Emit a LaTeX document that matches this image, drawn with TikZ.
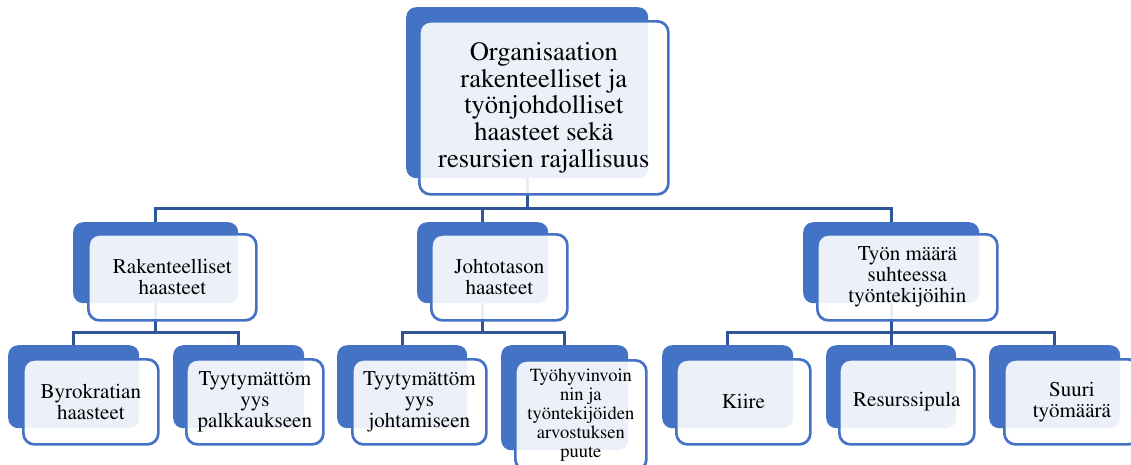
\documentclass[tikz,border=0pt]{standalone}
\usepackage[T1]{fontenc}
\usepackage{times}

\definecolor{accentblue}{RGB}{68,114,196}
\definecolor{linkblue}{RGB}{47,85,151}

\tikzset{
  backbox/.style={rectangle, fill=accentblue, rounded corners=10pt, anchor=north west, inner sep=0pt},
  frontbox/.style={rectangle, draw=accentblue, line width=2.7pt, fill=white, fill opacity=0.9, text opacity=1, rounded corners=11pt, anchor=north west, align=center, inner sep=2pt, font=\fontsize{21}{21}\selectfont},
  link/.style={draw=linkblue, line width=2.7pt}
}

\begin{document}
\begin{tikzpicture}[x=1pt, y=-1pt]

\useasboundingbox (0,0) rectangle (1131,464);
\clip (0,0) rectangle (1131,464);

% back boxes
\node at (406,7)[backbox, minimum width=242pt, minimum height=171pt] (orgb) {};

\node at (73,222)[backbox, minimum width=165pt, minimum height=81pt] (rakb) {};
\node at (417,222)[backbox, minimum width=131pt, minimum height=81pt] (johb) {};
\node at (803,222)[backbox, minimum width=176pt, minimum height=81pt] (tyob) {};

\node at (8,345)[backbox, minimum width=131pt, minimum height=83pt] (byrb) {};
\node at (173,345)[backbox, minimum width=131pt, minimum height=83pt] (palb) {};
\node at (337,345)[backbox, minimum width=130pt, minimum height=83pt] (jtmb) {};
\node at (501,345)[backbox, minimum width=127pt, minimum height=105pt] (hyvb) {};
\node at (662,345)[backbox, minimum width=131pt, minimum height=83pt] (kiib) {};
\node at (826,345)[backbox, minimum width=130pt, minimum height=83pt] (resb) {};
\node at (989,345)[backbox, minimum width=131pt, minimum height=83pt] (suub) {};

% connectors
\draw[link] (orgb.south) -- ++(0,30) -| (rakb.north);
\draw[link] (orgb.south) -- ++(0,30) -| (johb.north);
\draw[link] (orgb.south) -- ++(0,30) -| (tyob.north);

\draw[link] (rakb.south) -- ++(0,29) -| (byrb.north);
\draw[link] (rakb.south) -- ++(0,29) -| (palb.north);
\draw[link] (johb.south) -- ++(0,29) -| (jtmb.north);
\draw[link] (johb.south) -- ++(0,29) -| (hyvb.north);
\draw[link] (tyob.south) -- ++(0,29) -| (kiib.north);
\draw[link] (tyob.south) -- ++(0,29) -| (resb.north);
\draw[link] (tyob.south) -- ++(0,29) -| (suub.north);

% front boxes
\node at (418,20)[frontbox, minimum width=249pt, minimum height=173pt, font=\fontsize{26.5}{26.7}\selectfont] (org) {Organisaation\\rakenteelliset ja\\työnjohdolliset\\haasteet sekä\\resursien rajallisuus};

\node at (87,233)[frontbox, minimum width=168pt, minimum height=86pt] (rak) {Rakenteelliset\\haasteet};
\node at (430,233)[frontbox, minimum width=136pt, minimum height=86pt] (joh) {Johtotason\\haasteet};
\node at (816,233)[frontbox, minimum width=180pt, minimum height=86pt] (tyo) {Työn määrä\\suhteessa\\työntekijöihin};

\node at (22,358)[frontbox, minimum width=135pt, minimum height=85pt] (byr) {Byrokratian\\haasteet};
\node at (185,358)[frontbox, minimum width=137pt, minimum height=85pt] (pal) {Tyytymättöm\\yys\\palkkaukseen};
\node at (351,358)[frontbox, minimum width=134pt, minimum height=85pt] (jtm) {Tyytymättöm\\yys\\johtamiseen};
\node at (514,359)[frontbox, minimum width=131pt, minimum height=110pt, font=\fontsize{18.5}{19}\selectfont] (hyv) {Työhyvinvoin\\nin ja\\työntekijöiden\\arvostuksen\\puute};
\node at (675,358)[frontbox, minimum width=134pt, minimum height=85pt] (kii) {Kiire};
\node at (838,358)[frontbox, minimum width=135pt, minimum height=85pt] (res) {Resurssipula};
\node at (1003,358)[frontbox, minimum width=135pt, minimum height=85pt] (suu) {Suuri\\työmäärä};

\end{tikzpicture}
\end{document}
